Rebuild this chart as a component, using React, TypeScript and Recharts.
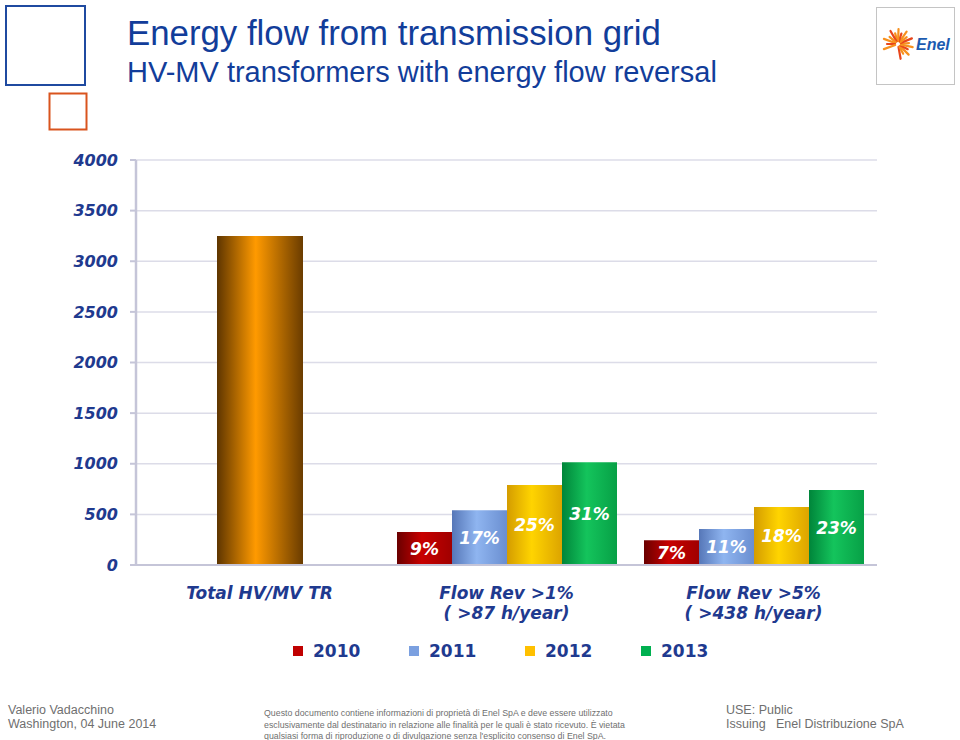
import React from 'react'
import { BarChart, Bar, XAxis, YAxis, CartesianGrid, LabelList } from 'recharts'

// categories on the x axis (first line + second line of each label)
const categories = ['Total HV/MV TR', 'Flow Rev >1%', 'Flow Rev >5%']
const subLabels = ['', '( >87 h/year)', '( >438 h/year)']

// total number of HV/MV transformers
const totalTR = [3250, null, null]

// transformers with flow reversal, by year
const years = ['2010', '2011', '2012', '2013']
const flow2010 = [null, 325, 245]
const flow2011 = [null, 540, 355]
const flow2012 = [null, 790, 572]
const flow2013 = [null, 1015, 740]

// share of total, shown inside the bars
const pct2010 = [null, 9, 7]
const pct2011 = [null, 17, 11]
const pct2012 = [null, 25, 18]
const pct2013 = [null, 31, 23]

const yTicks = [0, 500, 1000, 1500, 2000, 2500, 3000, 3500, 4000]

const flows = [flow2010, flow2011, flow2012, flow2013]
const pcts = [pct2010, pct2011, pct2012, pct2013]

const data = categories.map((name, i) => {
  const row: Record<string, any> = { name, sub: subLabels[i], total: totalTR[i] }
  years.forEach((y, k) => {
    row['v' + y] = flows[k][i]
    row['p' + y] = pcts[k][i]
  })
  return row
})

// [left edge, centre, right edge] of the cylinder look
const gradients: Record<string, string[]> = {
  total: ['#5e3500', '#ff9a00', '#6a3c00'],
  '2010': ['#6a0000', '#c80000', '#a00000'],
  '2011': ['#5677b8', '#8fb5f0', '#6a8ed0'],
  '2012': ['#d49c00', '#ffd400', '#dca400'],
  '2013': ['#00853a', '#14c45c', '#07a046'],
}
const legendColors: Record<string, string> = {
  '2010': '#c00000',
  '2011': '#7ba0e0',
  '2012': '#ffc000',
  '2013': '#00b050',
}

const NAVY = '#1f3a8f'
const FONT = '"DejaVu Sans", Verdana, sans-serif'

function CategoryTick(props: any) {
  const { x, y, payload, index } = props
  const sub = subLabels[index]
  return (
    <g>
      <text
        x={x}
        y={y + 26}
        textAnchor="middle"
        fill={NAVY}
        fontFamily={FONT}
        fontWeight="bold"
        fontStyle="italic"
        fontSize={17}
      >
        {payload.value}
      </text>
      {sub && (
        <text
          x={x}
          y={y + 46}
          textAnchor="middle"
          fill={NAVY}
          fontFamily={FONT}
          fontWeight="bold"
          fontStyle="italic"
          fontSize={17}
        >
          {sub}
        </text>
      )}
    </g>
  )
}

const pctLabel = (v: any) => (v == null ? '' : `${v}%`)

function EnelLogo() {
  const rays = [-80, -62, -45, -28, -12, 5, 22, 38, 55, 72, 88, 105, 120, 140, 160, 180, 200]
  return (
    <g>
      <rect x={876.5} y={7.5} width={78} height={77} fill="#fff" stroke="#c4c4c4" />
      {rays.map((a, i) => {
        const r = (a * Math.PI) / 180
        const len = i % 2 === 0 ? 15 : 11
        return (
          <line
            key={i}
            x1={898 + Math.cos(r) * 3}
            y1={44 - Math.sin(r) * 3}
            x2={898 + Math.cos(r) * len}
            y2={44 - Math.sin(r) * len}
            stroke={i % 3 === 0 ? '#e8461c' : '#f7901e'}
            strokeWidth={2.2}
            strokeLinecap="round"
          />
        )
      })}
      <text x={916} y={50} fill="#1c5bb0" fontFamily="Liberation Sans, Arial" fontWeight="bold" fontStyle="italic" fontSize={16}>
        Enel
      </text>
    </g>
  )
}

function Slide() {
  const grey = '#6f6f6f'
  return (
    <svg width={960} height={740} style={{ position: 'absolute', left: 0, top: 0 }}>
      <rect x={0} y={0} width={960} height={740} fill="#fff" />
      <rect x={6} y={6} width={79} height={79} fill="none" stroke="#1f4aa0" strokeWidth={2} />
      <rect x={49.5} y={93.5} width={37} height={36} fill="none" stroke="#d9541e" strokeWidth={2} />
      <text x={127} y={45} fill="#123d9a" fontFamily="Liberation Sans, Arial" fontSize={34.8}>
        Energy flow from transmission grid
      </text>
      <text x={127} y={82} fill="#123d9a" fontFamily="Liberation Sans, Arial" fontSize={29}>
        HV-MV transformers with energy flow reversal
      </text>
      <EnelLogo />
      <g fontFamily="Liberation Sans, Arial" fill={grey}>
        <text x={8} y={714} fontSize={12.5}>Valerio Vadacchino</text>
        <text x={8} y={728} fontSize={12.5}>Washington, 04 June 2014</text>
        <text x={264} y={716} fontSize={8.8}>
          Questo documento contiene informazioni di proprietà di Enel SpA e deve essere utilizzato
        </text>
        <text x={264} y={727.5} fontSize={8.8}>
          esclusivamente dal destinatario in relazione alle finalità per le quali è stato ricevuto. È vietata
        </text>
        <text x={264} y={739} fontSize={8.8}>
          qualsiasi forma di riproduzione o di divulgazione senza l'esplicito consenso di Enel SpA.
        </text>
        <text x={726} y={714} fontSize={12.5}>USE: Public</text>
        <text x={726} y={728} fontSize={12.5}>Issuing</text>
        <text x={776} y={728} fontSize={12.5}>Enel Distribuzione SpA</text>
      </g>
    </svg>
  )
}

function Legend() {
  return (
    <div
      style={{
        position: 'absolute',
        left: 293,
        top: 641,
        display: 'flex',
        fontFamily: FONT,
        fontWeight: 'bold',
        fontSize: 17,
        color: NAVY,
      }}
    >
      {years.map((y) => (
        <div key={y} style={{ display: 'flex', alignItems: 'center', width: 116 }}>
          <span style={{ width: 10, height: 10, background: legendColors[y], marginRight: 10 }} />
          {y}
        </div>
      ))}
    </div>
  )
}

export default function App() {
  return (
    <div style={{ position: 'absolute', left: 0, top: 0, width: 960, height: 740, background: '#fff' }}>
      <Slide />
      <div style={{ position: 'absolute', left: 0, top: 0 }}>
        <BarChart
          width={960}
          height={640}
          data={data}
          margin={{ top: 160, right: 83, bottom: 0, left: 76 }}
          barGap={0}
        >
          <defs>
            {Object.entries(gradients).map(([k, c]) => (
              <linearGradient key={k} id={'g' + k} x1="0" y1="0" x2="1" y2="0">
                <stop offset="0%" stopColor={c[0]} />
                <stop offset="45%" stopColor={c[1]} />
                <stop offset="100%" stopColor={c[2]} />
              </linearGradient>
            ))}
          </defs>
          <CartesianGrid vertical={false} stroke="#dcdce8" strokeWidth={1.5} />
          <XAxis
            xAxisId="main"
            dataKey="name"
            height={75}
            axisLine={{ stroke: '#c5c5d8', strokeWidth: 2 }}
            tickLine={false}
            tick={<CategoryTick />}
            interval={0}
          />
          <XAxis xAxisId="years" dataKey="name" height={0} hide />
          <YAxis
            width={60}
            domain={[0, 4000]}
            ticks={yTicks}
            interval={0}
            axisLine={{ stroke: '#c5c5d8', strokeWidth: 2.5 }}
            tickLine={{ stroke: '#c5c5d8', strokeWidth: 2 }}
            tickSize={6}
            tickMargin={12}
            tick={{ fill: NAVY, fontFamily: FONT, fontWeight: 'bold', fontStyle: 'italic', fontSize: 16 }}
          />
          <Bar
            xAxisId="main"
            dataKey="total"
            barSize={86}
            fill="url(#gtotal)"
            isAnimationActive={false}
          />
          {years.map((y) => (
            <Bar
              key={y}
              xAxisId="years"
              dataKey={'v' + y}
              name={y}
              barSize={55}
              fill={`url(#g${y})`}
              isAnimationActive={false}
            >
              <LabelList
                dataKey={'p' + y}
                position="center"
                formatter={pctLabel}
                fill="#fff"
                fontFamily={FONT}
                fontWeight="bold"
                fontStyle="italic"
                fontSize={17}
              />
            </Bar>
          ))}
        </BarChart>
      </div>
      <Legend />
    </div>
  )
}
